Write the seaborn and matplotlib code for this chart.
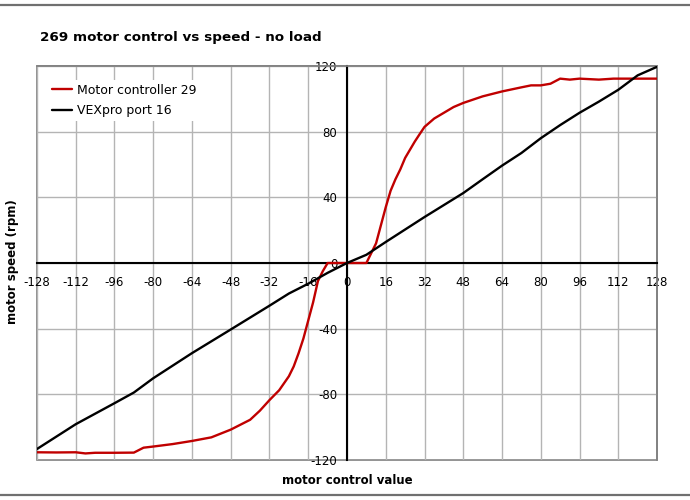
import matplotlib
matplotlib.use('Agg')
import matplotlib.pyplot as plt
from matplotlib.lines import Line2D
import seaborn as sns
import pandas as pd
import numpy as np

# values
ctrl_x = [-128, -120, -112, -108, -104, -96, -88, -84, -80, -72, -64, -56, -48, -44, -40, -36,
          -32, -28, -24, -22, -20, -18, -16, -14, -12, -10, -8, 0, 8, 10, 12, 14, 16, 18, 20, 22,
          24, 26, 28, 30, 32, 36, 40, 44, 48, 56, 64, 72, 76, 80, 84, 88, 92, 96, 104, 110, 120, 128]
ctrl_y = [-115.3, -115.4, -115.3, -116.0, -115.6, -115.6, -115.5, -112.5, -111.8, -110.3, -108.4,
          -106.2, -101.5, -98.5, -95.5, -90.0, -83.5, -77.5, -69.0, -63.0, -55.0, -46.0, -35.0,
          -24.0, -11.0, -5.0, 0.0, 0.0, 0.0, 6.0, 12.0, 23.0, 34.0, 44.0, 51.0, 57.0, 64.0, 69.0,
          74.0, 78.5, 82.9, 88.0, 91.5, 95.0, 97.5, 101.5, 104.5, 107.0, 108.2, 108.2, 109.2,
          112.3, 111.7, 112.3, 111.7, 112.3, 112.3, 112.3]

vex_x = [-128, -112, -96, -88, -80, -64, -48, -32, -24, -16, -8, 0, 8, 16, 24, 32, 40, 48, 56,
         64, 72, 80, 88, 96, 104, 112, 120, 128]
vex_y = [-113.3, -98.2, -85.4, -78.9, -70.2, -54.9, -40.5, -26.0, -18.6, -12.6, -6.0, 0.0, 5.0,
         12.8, 20.4, 28.0, 35.3, 42.6, 51.0, 59.3, 67.0, 76.0, 84.0, 91.5, 98.3, 105.5, 114.3, 119.5]

series_names = ['Motor controller 29', 'VEXpro port 16']
series_colors = ['#c00000', '#000000']

x_ticks = list(range(-128, 129, 16))
y_ticks = list(range(-120, 121, 40))

df = pd.concat([
    pd.DataFrame({'control': ctrl_x, 'speed': ctrl_y, 'series': series_names[0]}),
    pd.DataFrame({'control': vex_x, 'speed': vex_y, 'series': series_names[1]}),
])

sns.set_style('white')
plt.rcParams['font.family'] = ['DejaVu Sans']
plt.rcParams['axes.unicode_minus'] = False
plt.rcParams['text.color'] = 'black'
plt.rcParams['xtick.color'] = 'black'
plt.rcParams['ytick.color'] = 'black'

fig = plt.figure(figsize=(6.9, 5), dpi=100)
ax = fig.add_axes([0.0536, 0.08, 0.8986, 0.788])

sns.lineplot(data=df, x='control', y='speed', hue='series', palette=series_colors,
             hue_order=series_names, linewidth=1.7, sort=False, estimator=None, ax=ax, zorder=3)

ax.set_xlim(-128, 128)
ax.set_ylim(-120, 120)
ax.set_xticks(x_ticks)
ax.set_yticks(y_ticks)
ax.grid(True, color='#b4b4b4', linewidth=1.0)
ax.set_axisbelow(True)

# axes crossing at zero, gray outer frame
ax.spines['left'].set_position(('data', 0))
ax.spines['bottom'].set_position(('data', 0))
for s in ['left', 'bottom']:
    ax.spines[s].set_color('black')
    ax.spines[s].set_linewidth(1.5)
    ax.spines[s].set_zorder(2.5)
for s in ['top', 'right']:
    ax.spines[s].set_color('#808080')
    ax.spines[s].set_linewidth(1.2)
ax.add_patch(plt.Rectangle((0, 0), 1, 1, transform=ax.transAxes, fill=False,
                           edgecolor='#808080', linewidth=1.2, clip_on=False, zorder=0.5))

ax.tick_params(axis='both', direction='out', length=4, width=1, color='black',
               labelcolor='black', labelsize=8.5, pad=3)
ax.tick_params(axis='x', pad=5)
ax.set_xlabel('')
ax.set_ylabel('')

leg = ax.legend(loc='upper left', bbox_to_anchor=(0.018, 0.965), borderaxespad=0,
                frameon=True, framealpha=1, edgecolor='none', facecolor='white',
                fontsize=9, handlelength=1.6, handletextpad=0.4, labelspacing=0.6,
                borderpad=0.3, fancybox=False)
leg.set_title(None)

fig.text(0.058, 0.926, '269 motor control vs speed - no load', fontsize=9.7,
         fontweight='bold', ha='left', va='center')
fig.text(0.503, 0.038, 'motor control value', fontsize=8.5, fontweight='bold',
         ha='center', va='center')
fig.text(0.018, 0.476, 'motor speed (rpm)', fontsize=8.5, fontweight='bold',
         ha='center', va='center', rotation=90)

fig.add_artist(Line2D([0, 1], [0.991, 0.991], transform=fig.transFigure, color='#707070', linewidth=1.6))
fig.add_artist(Line2D([0, 1], [0.011, 0.011], transform=fig.transFigure, color='#707070', linewidth=1.6))

fig.savefig('out.png', dpi=100)
